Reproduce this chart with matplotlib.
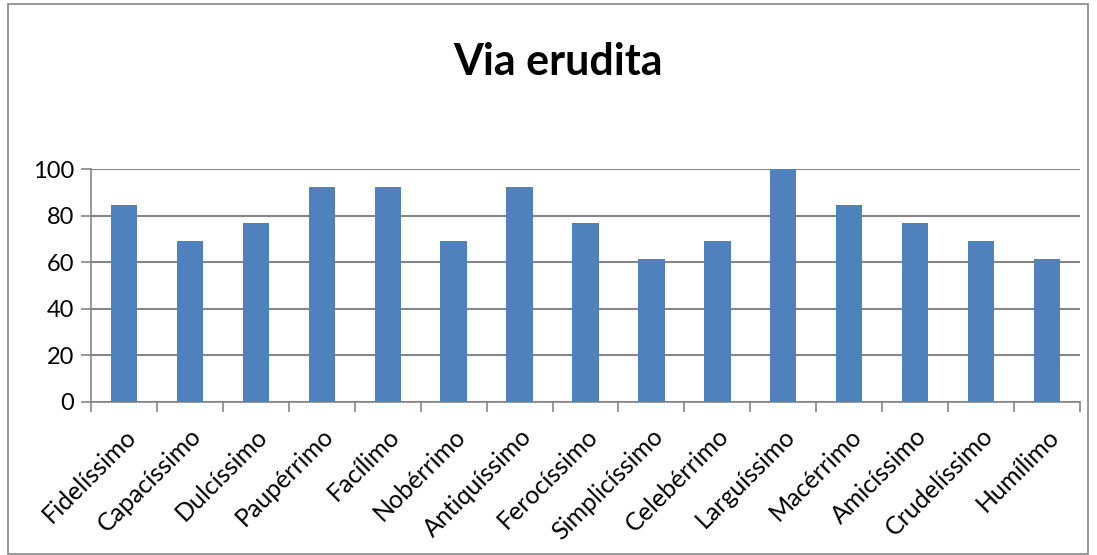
import matplotlib.pyplot as plt
from matplotlib.patches import Rectangle

plt.rcParams["font.family"] = ["Lato", "DejaVu Sans"]

# Data
categorias = ["Fidelíssimo", "Capacíssimo", "Dulcíssimo", "Paupérrimo", "Facílimo",
              "Nobérrimo", "Antiquíssimo", "Ferocíssimo", "Simplicíssimo", "Celebérrimo",
              "Larguíssimo", "Macérrimo", "Amicíssimo", "Crudelíssimo", "Humílimo"]
valores = [84.6, 69.2, 76.9, 92.3, 92.3, 69.2, 92.3, 76.9, 61.5, 69.2,
           100.0, 84.6, 76.9, 69.2, 61.5]
yticks = [0, 20, 40, 60, 80, 100]


def main() -> None:
    fig = plt.figure(figsize=(10.97, 5.55), dpi=100)
    ax = fig.add_axes([91 / 1097, 1 - 402 / 555, (1080 - 91) / 1097, (402 - 169) / 555])

    # chart border
    fig.patches.append(Rectangle((8 / 1097, 0.002), 1080 / 1097, 0.99, transform=fig.transFigure,
                                 fill=False, edgecolor="#888888", linewidth=1.2))

    x = list(range(len(categorias)))
    ax.bar(x, valores, width=0.4, color="#4F81BD", zorder=3)

    ax.set_xlim(-0.5, len(categorias) - 0.5)
    ax.set_ylim(0, 100)
    ax.set_yticks(yticks)
    ax.yaxis.grid(True, color="#868686", linewidth=1.5, zorder=0)
    ax.tick_params(axis="y", labelsize=17, length=7, width=1.2, color="#868686", pad=5)

    ax.set_xticks([i - 0.5 for i in range(len(categorias) + 1)])
    ax.set_xticklabels([])
    ax.tick_params(axis="x", length=7, width=1.2, color="#868686")
    ax.set_xticks(x, minor=True)
    ax.set_xticklabels(categorias, minor=True, rotation=45, ha="right", va="top",
                       rotation_mode="anchor", fontsize=18)
    ax.tick_params(axis="x", which="minor", length=0, pad=16)

    for side in ["top", "right"]:
        ax.spines[side].set_visible(False)
    ax.spines["left"].set_color("#868686")
    ax.spines["bottom"].set_color("#868686")
    ax.spines["left"].set_linewidth(1.2)
    ax.spines["bottom"].set_linewidth(1.2)

    fig.text(558 / 1097, 1 - 62 / 555, "Via erudita", ha="center", va="center",
             fontsize=31, fontweight="bold")

    fig.savefig("out.png", dpi=100)


if __name__ == "__main__":
    main()
